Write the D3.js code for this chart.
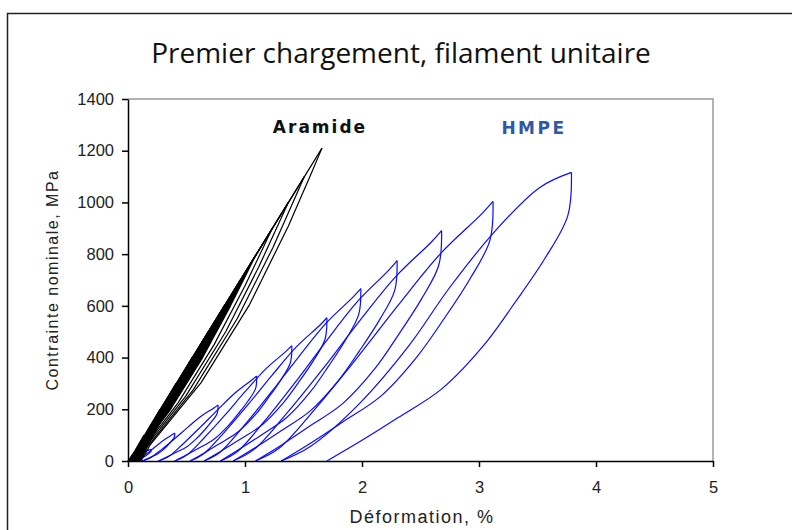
<!DOCTYPE html>
<html>
<head>
<meta charset="utf-8">
<script src="https://cdn.jsdelivr.net/npm/d3@7"></script>
<style>
  body { margin: 0; background: #fff; }
  svg { display: block; }
</style>
</head>
<body>
<div id="chart"></div>
<script>
// axis ticks
const xTicks = [0, 1, 2, 3, 4, 5];
const yTicks = [0, 200, 400, 600, 800, 1000, 1200, 1400];

// HMPE: one list per cycle, [strain %, stress MPa], loading then unloading (both read low -> peak)
const hmpeLoad = [
  [[0, 0], [0.05, 9], [0.12, 27], [0.18, 43], [0.20, 45]],
  [[0.05, 0], [0.085, 5], [0.138, 22], [0.201, 43], [0.26, 65], [0.323, 86], [0.383, 103], [0.40, 108]],
  [[0.12, 0], [0.185, 11], [0.283, 43], [0.40, 87], [0.51, 130], [0.627, 174], [0.738, 206], [0.77, 217]],
  [[0.26, 0], [0.344, 16], [0.47, 66], [0.621, 132], [0.764, 197], [0.915, 263], [1.058, 313], [1.10, 329]],
  [[0.40, 0], [0.50, 22], [0.65, 89], [0.83, 178], [1.00, 268], [1.18, 357], [1.35, 424], [1.40, 446]],
  [[0.53, 0], [0.647, 28], [0.823, 111], [1.033, 222], [1.232, 332], [1.443, 443], [1.642, 526], [1.70, 554]],
  [[0.65, 0], [0.784, 33], [0.985, 133], [1.226, 267], [1.454, 400], [1.695, 534], [1.923, 634], [1.99, 667]],
  [[0.79, 0], [0.941, 39], [1.168, 155], [1.439, 310], [1.696, 465], [1.968, 620], [2.225, 736], [2.30, 775]],
  [[0.90, 0], [1.078, 45], [1.345, 178], [1.665, 356], [1.968, 535], [2.288, 713], [2.591, 846], [2.68, 891]],
  [[1.09, 0], [1.293, 50], [1.598, 201], [1.963, 402], [2.308, 602], [2.673, 803], [3.019, 954], [3.12, 1004]],
  [[1.31, 0], [1.558, 56], [1.98, 223], [2.401, 446], [2.748, 670], [3.145, 893], [3.52, 1058], [3.79, 1116]]
];
const hmpeUnload = [
  [[0.05, 0], [0.071, 3], [0.094, 7], [0.12, 11], [0.146, 18], [0.166, 25], [0.184, 32], [0.198, 38], [0.20, 45]],
  [[0.12, 0], [0.159, 8], [0.201, 16], [0.252, 27], [0.299, 43], [0.336, 59], [0.369, 76], [0.396, 92], [0.40, 108]],
  [[0.26, 0], [0.331, 15], [0.408, 33], [0.50, 54], [0.586, 87], [0.653, 119], [0.714, 152], [0.762, 184], [0.77, 217]],
  [[0.40, 0], [0.498, 23], [0.603, 49], [0.729, 82], [0.848, 132], [0.939, 181], [1.023, 230], [1.09, 280], [1.10, 329]],
  [[0.53, 0], [0.652, 31], [0.782, 67], [0.939, 112], [1.087, 178], [1.20, 245], [1.304, 312], [1.387, 379], [1.40, 446]],
  [[0.65, 0], [0.797, 39], [0.955, 83], [1.144, 139], [1.322, 222], [1.459, 305], [1.585, 388], [1.684, 471], [1.70, 554]],
  [[0.79, 0], [0.958, 47], [1.138, 100], [1.354, 167], [1.558, 267], [1.714, 367], [1.858, 467], [1.972, 567], [1.99, 667]],
  [[0.90, 0], [1.096, 54], [1.306, 116], [1.558, 194], [1.796, 310], [1.978, 426], [2.146, 543], [2.279, 659], [2.30, 775]],
  [[1.09, 0], [1.313, 62], [1.551, 134], [1.837, 223], [2.108, 356], [2.314, 490], [2.505, 624], [2.656, 757], [2.68, 891]],
  [[1.31, 0], [1.563, 70], [1.835, 151], [2.161, 251], [2.468, 402], [2.704, 552], [2.921, 703], [3.093, 853], [3.12, 1004]],
  [[1.70, 0], [1.993, 78], [2.306, 167], [2.682, 279], [3.038, 446], [3.309, 614], [3.56, 781], [3.759, 949], [3.79, 1116]]
];

// Aramide: narrow loops, same layout
const aramideLoad = [
  [[0, 0], [0.060, 40], [0.137, 100]],
  [[0.02, 0], [0.115, 80], [0.274, 200]],
  [[0.03, 0], [0.169, 120], [0.411, 300]],
  [[0.04, 0], [0.224, 160], [0.548, 400]],
  [[0.05, 0], [0.279, 200], [0.685, 500]],
  [[0.055, 0], [0.334, 240], [0.822, 600]],
  [[0.06, 0], [0.389, 280], [0.959, 700]],
  [[0.07, 0], [0.443, 320], [1.096, 800]],
  [[0.075, 0], [0.498, 360], [1.233, 900]],
  [[0.08, 0], [0.553, 400], [1.370, 1000]],
  [[0.09, 0], [0.608, 440], [1.507, 1100]],
  [[0.10, 0], [0.668, 484], [1.658, 1210]]
];
const aramideUnload = [
  [[0.02, 0], [0.025, 5], [0.054, 25], [0.088, 50], [0.115, 75], [0.130, 92], [0.137, 100]],
  [[0.03, 0], [0.035, 10], [0.098, 50], [0.167, 100], [0.223, 150], [0.258, 184], [0.274, 200]],
  [[0.04, 0], [0.048, 15], [0.143, 75], [0.245, 150], [0.332, 225], [0.386, 276], [0.411, 300]],
  [[0.05, 0], [0.058, 20], [0.187, 100], [0.324, 200], [0.441, 300], [0.514, 368], [0.548, 400]],
  [[0.055, 0], [0.064, 25], [0.231, 125], [0.402, 250], [0.550, 375], [0.642, 460], [0.685, 500]],
  [[0.06, 0], [0.076, 30], [0.275, 150], [0.481, 300], [0.658, 450], [0.770, 552], [0.822, 600]],
  [[0.07, 0], [0.088, 35], [0.320, 175], [0.559, 350], [0.767, 525], [0.898, 644], [0.959, 700]],
  [[0.075, 0], [0.100, 40], [0.364, 200], [0.638, 400], [0.876, 600], [1.026, 736], [1.096, 800]],
  [[0.08, 0], [0.122, 45], [0.428, 225], [0.736, 450], [0.997, 675], [1.158, 828], [1.233, 900]],
  [[0.09, 0], [0.143, 50], [0.492, 250], [0.835, 500], [1.117, 750], [1.290, 920], [1.370, 1000]],
  [[0.10, 0], [0.165, 55], [0.557, 275], [0.933, 550], [1.238, 825], [1.422, 1012], [1.507, 1100]],
  [[0.11, 0], [0.188, 61], [0.625, 303], [1.039, 605], [1.370, 908], [1.567, 1113], [1.658, 1210]]
];
// the first cycles overlap into a solid black band
const aramideSolidCycles = 8;

const width = 792, height = 530;
const plotLeft = 128, plotRight = 713, plotTop = 99, plotBottom = 461;

const svg = d3.select("#chart").append("svg")
  .attr("width", width)
  .attr("height", height)
  .style("font-family", "'Liberation Sans', Arial, sans-serif");

svg.append("rect").attr("width", width).attr("height", height).attr("fill", "#fff");

// outer chart frame
svg.append("rect")
  .attr("x", 7.5).attr("y", 13.5)
  .attr("width", 820).attr("height", 560)
  .attr("fill", "none").attr("stroke", "#222").attr("stroke-width", 1.5);

svg.append("text")
  .attr("x", 401).attr("y", 63)
  .attr("text-anchor", "middle")
  .style("font-family", "'Open Sans', 'Noto Sans', sans-serif")
  .style("font-size", "28px")
  .attr("fill", "#111")
  .text("Premier chargement, filament unitaire");

const x = d3.scaleLinear().domain([0, 5]).range([plotLeft, plotRight]);
const y = d3.scaleLinear().domain([0, 1400]).range([plotBottom, plotTop]);

// plot frame (grey top/right)
svg.append("path")
  .attr("d", `M${plotLeft},${plotTop}H${plotRight}V${plotBottom}`)
  .attr("fill", "none").attr("stroke", "#9a9a9a").attr("stroke-width", 1.5);

const line = d3.line()
  .x(d => x(d[0]))
  .y(d => y(d[1]))
  .curve(d3.curveCatmullRom.alpha(0.5));

svg.append("g")
  .attr("fill", "none")
  .attr("stroke", "#0a0aff")
  .attr("stroke-width", 1.2)
  .attr("stroke-linejoin", "round")
  .selectAll("path")
  .data(hmpeLoad.concat(hmpeUnload))
  .join("path")
  .attr("d", line);

// aramide: filled loops for the tight early cycles, then every path stroked
const loopLine = d3.line().x(d => x(d[0])).y(d => y(d[1]));
svg.append("g")
  .attr("fill", "#000")
  .selectAll("path")
  .data(aramideLoad.slice(0, aramideSolidCycles).map((l, i) => l.concat(aramideUnload[i].slice().reverse())))
  .join("path")
  .attr("d", loopLine);

svg.append("g")
  .attr("fill", "none")
  .attr("stroke", "#000")
  .attr("stroke-width", 1.2)
  .attr("stroke-linejoin", "round")
  .selectAll("path")
  .data(aramideLoad.concat(aramideUnload))
  .join("path")
  .attr("d", loopLine);

const yAxis = svg.append("g")
  .attr("transform", `translate(${plotLeft},0)`)
  .call(d3.axisLeft(y).tickValues(yTicks).tickSize(6).tickSizeOuter(0).tickPadding(8).tickFormat(d3.format("d")));
const xAxis = svg.append("g")
  .attr("transform", `translate(0,${plotBottom})`)
  .call(d3.axisBottom(x).tickValues(xTicks).tickSize(6).tickSizeOuter(0).tickPadding(14).tickFormat(d3.format("d")));

[xAxis, yAxis].forEach(g => {
  g.select(".domain").attr("stroke", "#000").attr("stroke-width", 1.5);
  g.selectAll(".tick line").attr("stroke", "#000").attr("stroke-width", 1.5);
  g.selectAll(".tick text")
    .style("font-family", "'Liberation Sans', Arial, sans-serif")
    .style("font-size", "16.5px")
    .attr("fill", "#222");
});

svg.append("text")
  .attr("transform", `translate(58,${(plotTop + plotBottom) / 2}) rotate(-90)`)
  .attr("text-anchor", "middle")
  .style("font-size", "16px")
  .style("letter-spacing", "1.5px")
  .attr("fill", "#222")
  .text("Contrainte nominale, MPa");

svg.append("text")
  .attr("x", 422).attr("y", 523)
  .attr("text-anchor", "middle")
  .style("font-size", "18px")
  .style("letter-spacing", "1.5px")
  .attr("fill", "#222")
  .text("Déformation, %");

svg.append("text")
  .attr("x", 320).attr("y", 133)
  .attr("text-anchor", "middle")
  .style("font-family", "'DejaVu Sans', Verdana, sans-serif")
  .style("font-weight", "bold")
  .style("font-size", "17px")
  .style("letter-spacing", "2px")
  .attr("fill", "#111")
  .text("Aramide");

svg.append("text")
  .attr("x", 534).attr("y", 134)
  .attr("text-anchor", "middle")
  .style("font-family", "'DejaVu Sans', Verdana, sans-serif")
  .style("font-weight", "bold")
  .style("font-size", "17px")
  .style("letter-spacing", "2.5px")
  .attr("fill", "#2f58a6")
  .text("HMPE");
</script>
</body>
</html>
